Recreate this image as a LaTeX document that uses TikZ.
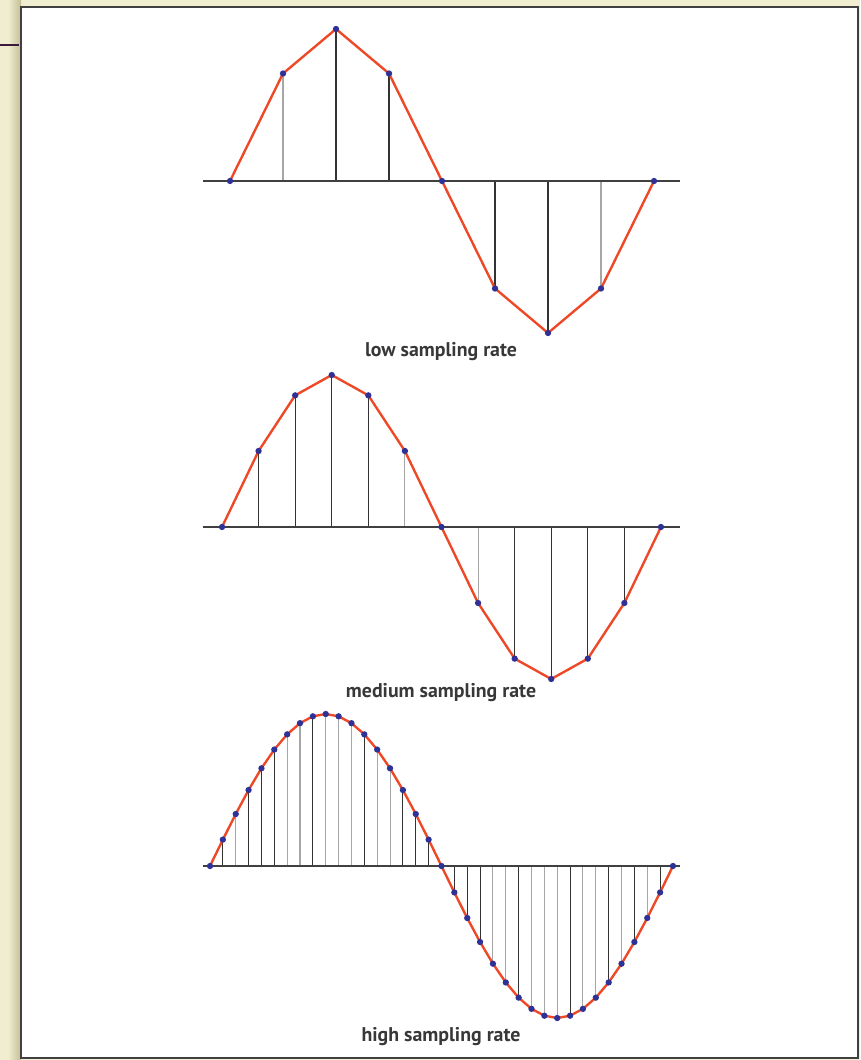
\documentclass[tikz,border=0pt]{standalone}
\usepackage{fontspec}
\usepackage{xcolor}
\usepackage{tikz}
\usetikzlibrary{calc}
\newfontfamily\captionfont{PT Sans}

\definecolor{waveRed}{RGB}{238,72,38}
\definecolor{dotBlue}{RGB}{46,50,150}
\definecolor{slideBeige}{RGB}{240,237,208}
\definecolor{slideShade}{RGB}{196,190,150}
\definecolor{slidePurple}{RGB}{60,24,62}

\begin{document}
\begin{tikzpicture}[
    x=0.02cm, y=-0.02cm,
    wave/.style={draw=waveRed, line width=1.35pt, line join=round},
    stem/.style={draw=black!80, line width=0.6pt},
    faint/.style={draw=black!35, line width=0.6pt},
    axis/.style={draw=black!75, line width=0.75pt},
    sample/.style={circle, fill=dotBlue, inner sep=0pt, minimum size=3.6pt},
    caption/.style={font=\captionfont\bfseries\fontsize{11.3}{13}\selectfont, text=black!78}
]
\useasboundingbox (0,0) rectangle (860,1060);

% Slide background
\fill[slideBeige] (0,0) rectangle (860,1060);
\shade[left color=slideBeige, right color=slideShade] (8,0) rectangle (21,1060);
\draw[slidePurple, line width=1.7pt] (0,45) -- (19,45);
\draw[fill=white, draw=black!75, line width=1pt] (21,7) rectangle (858,1058);

% Low sampling rate
\coordinate (lowleft) at (203,181);
\coordinate (lowright) at (680,181);
\foreach \i in {0,...,8}
    \coordinate (low\i) at ({230+53*\i},{181-152*sin(45*\i)});
\foreach \i in {2,3,5,6}
    \draw[stem] (low\i) -- (low\i |- lowleft);
\foreach \i in {1,7}
    \draw[faint] (low\i) -- (low\i |- lowleft);
\draw[axis] (lowleft) -- (lowright);
\draw[wave] (low0) \foreach \i in {1,...,8} { -- (low\i) };
\foreach \i in {0,...,8}
    \node[sample] (lowdot\i) at (low\i) {};
\node[caption] (lowlabel) at (441,352) {low sampling rate};

% Medium sampling rate
\coordinate (medleft) at (203,527);
\coordinate (medright) at (680,527);
\foreach \i in {0,...,12}
    \coordinate (med\i) at ({222+36.58*\i},{527-152*sin(30*\i)});
\foreach \i in {1,2,3,4,8,9,10,11}
    \draw[stem] (med\i) -- (med\i |- medleft);
\foreach \i in {5,7}
    \draw[faint] (med\i) -- (med\i |- medleft);
\draw[axis] (medleft) -- (medright);
\draw[wave] (med0) \foreach \i in {1,...,12} { -- (med\i) };
\foreach \i in {0,...,12}
    \node[sample] (meddot\i) at (med\i) {};
\node[caption] (medlabel) at (441,693) {medium sampling rate};

% High sampling rate
\coordinate (highleft) at (203,866);
\coordinate (highright) at (680,866);
\foreach \i in {0,...,36}
    \coordinate (high\i) at ({210+12.86*\i},{866-152*sin(10*\i)});
\foreach \i in {1,3,4,5,8,12,15,16,17,19,20,21,24,28,31,33,35}
    \draw[stem] (high\i) -- (high\i |- highleft);
\foreach \i in {2,6,7,9,10,11,13,14,22,23,25,26,27,29,30,32,34}
    \draw[faint] (high\i) -- (high\i |- highleft);
\draw[axis] (highleft) -- (highright);
\draw[wave] (high0) \foreach \i in {1,...,36} { -- (high\i) };
\foreach \i in {0,...,36}
    \node[sample] (highdot\i) at (high\i) {};
\node[caption] (highlabel) at (441,1037) {high sampling rate};

\end{tikzpicture}
\end{document}
